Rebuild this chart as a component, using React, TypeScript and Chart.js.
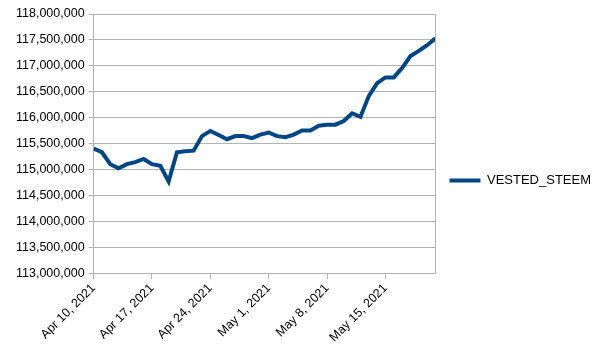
import React, { useEffect, useRef } from "react";
import { Chart, registerables } from "chart.js";

Chart.register(...registerables);

const dates: string[] = [
  "Apr 10, 2021", "Apr 11, 2021", "Apr 12, 2021", "Apr 13, 2021", "Apr 14, 2021", "Apr 15, 2021", "Apr 16, 2021",
  "Apr 17, 2021", "Apr 18, 2021", "Apr 19, 2021", "Apr 20, 2021", "Apr 21, 2021", "Apr 22, 2021", "Apr 23, 2021",
  "Apr 24, 2021", "Apr 25, 2021", "Apr 26, 2021", "Apr 27, 2021", "Apr 28, 2021", "Apr 29, 2021", "Apr 30, 2021",
  "May 1, 2021", "May 2, 2021", "May 3, 2021", "May 4, 2021", "May 5, 2021", "May 6, 2021", "May 7, 2021",
  "May 8, 2021", "May 9, 2021", "May 10, 2021", "May 11, 2021", "May 12, 2021", "May 13, 2021", "May 14, 2021",
  "May 15, 2021", "May 16, 2021", "May 17, 2021", "May 18, 2021", "May 19, 2021", "May 20, 2021", "May 21, 2021",
];

const vestedSteem: number[] = [
  115410000, 115340000, 115110000, 115030000, 115110000, 115150000, 115210000,
  115110000, 115080000, 114780000, 115340000, 115360000, 115370000, 115650000,
  115750000, 115670000, 115590000, 115650000, 115650000, 115610000, 115680000,
  115720000, 115650000, 115630000, 115680000, 115760000, 115760000, 115850000,
  115870000, 115870000, 115940000, 116090000, 116020000, 116420000, 116670000,
  116780000, 116780000, 116960000, 117190000, 117290000, 117400000, 117530000,
];

const seriesName = "VESTED_STEEM";
const yMin = 113000000;
const yMax = 118000000;
const yStep = 500000;
const xStep = 7;

const LINE = "#004586";
const GRID = "#b3b3b3";
const FONT = "'Liberation Sans', Arial, sans-serif";
const FS = 12.5;

const rightBorder = {
  id: "rightBorder",
  afterDraw(chart: any) {
    const { ctx, chartArea } = chart;
    ctx.save();
    ctx.strokeStyle = GRID;
    ctx.lineWidth = 1;
    ctx.beginPath();
    const x = Math.round(chartArea.right) + 0.5;
    ctx.moveTo(x, chartArea.top);
    ctx.lineTo(x, chartArea.bottom);
    ctx.stroke();
    ctx.restore();
  },
};

export default function App() {
  const ref = useRef<HTMLCanvasElement | null>(null);

  useEffect(() => {
    if (!ref.current) return;
    const chart = new Chart(ref.current, {
      type: "line",
      data: {
        datasets: [
          {
            label: seriesName,
            data: vestedSteem.map((v, i) => ({ x: i, y: v })),
            borderColor: LINE,
            backgroundColor: LINE,
            borderWidth: 4,
            pointRadius: 0,
            tension: 0,
          },
        ],
      },
      options: {
        responsive: false,
        animation: false,
        layout: { padding: { left: 12, right: 3, top: 14, bottom: 7 } },
        plugins: {
          legend: {
            position: "right",
            maxWidth: 200,
            labels: {
              font: { family: FONT, size: 13 },
              color: "#000",
              boxWidth: 31,
              boxHeight: 4,
              padding: 14,
              generateLabels: (c: any) =>
                c.data.datasets.map((d: any, i: number) => ({
                  text: d.label,
                  fillStyle: LINE,
                  strokeStyle: LINE,
                  lineWidth: 0,
                  hidden: false,
                  datasetIndex: i,
                })),
            },
          },
          tooltip: { enabled: false },
        },
        scales: {
          x: {
            type: "linear",
            min: 0,
            max: vestedSteem.length - 1,
            grid: { drawOnChartArea: false, color: GRID, tickLength: 5 },
            border: { color: GRID },
            ticks: {
              stepSize: xStep,
              includeBounds: false,
              maxRotation: 45,
              minRotation: 45,
              autoSkip: false,
              color: "#000",
              font: { family: FONT, size: FS },
              padding: 2,
              callback: (v: any) => dates[Number(v)] ?? "",
            },
          },
          y: {
            min: yMin,
            max: yMax,
            grid: { color: GRID, tickLength: 5 },
            border: { color: GRID },
            ticks: {
              stepSize: yStep,
              color: "#000",
              font: { family: FONT, size: FS },
              padding: 4,
              callback: (v: any) => Number(v).toLocaleString("en-US"),
            },
          },
        },
      },
      plugins: [rightBorder],
    });
    return () => chart.destroy();
  }, []);

  return (
    <div style={{ position: "fixed", left: 0, top: 0, width: 604, height: 354, background: "#fff" }}>
      <canvas ref={ref} width={604} height={354} />
    </div>
  );
}
